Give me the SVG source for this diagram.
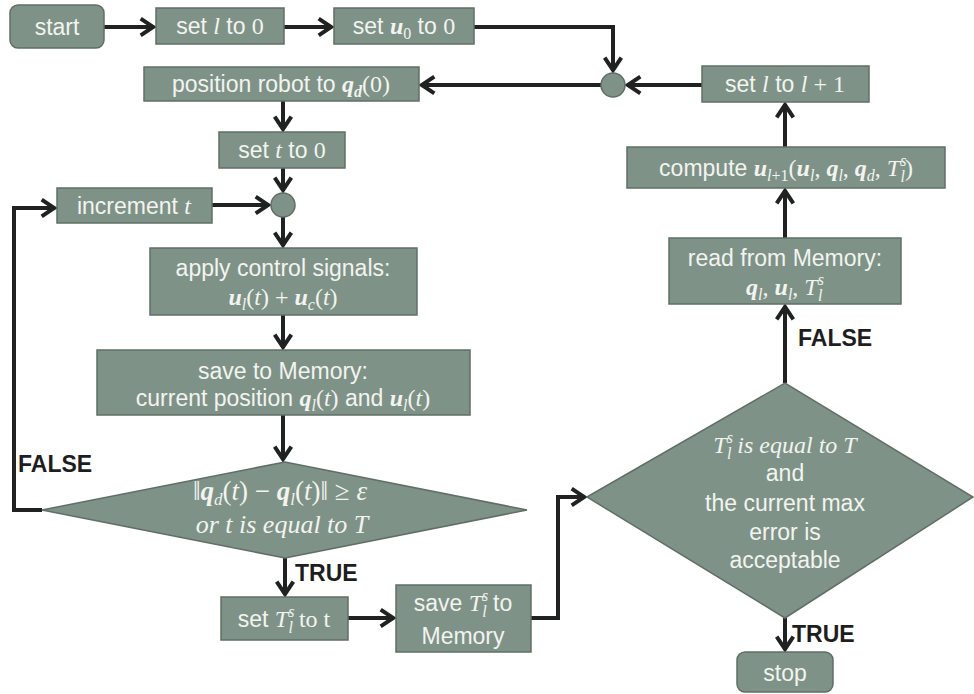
<svg xmlns="http://www.w3.org/2000/svg" width="974" height="694" viewBox="0 0 974 694">
<defs>
<marker id="ah" viewBox="0 0 12 12" refX="10.5" refY="6" markerWidth="20" markerHeight="20" markerUnits="userSpaceOnUse" orient="auto">
<path d="M2.5,1 L10,6 L2.5,11" fill="none" stroke="#1f2221" stroke-width="2.4" stroke-linejoin="miter"/>
</marker>
<style>
.box{fill:#7f9287;stroke:#5f6f66;stroke-width:1.5}
.jn{fill:#7f9287;stroke:#5f6f66;stroke-width:1.5}
.t{font-family:"Liberation Sans",Arial,sans-serif;font-size:23px;fill:#f2f4f0;text-anchor:middle}
.m{font-family:"Liberation Serif","Times New Roman",serif;font-style:italic;font-size:24px}
.mb{font-family:"Liberation Serif","Times New Roman",serif;font-style:italic;font-weight:bold;font-size:24px}
.r{font-family:"Liberation Serif","Times New Roman",serif;font-size:24px}
.t .s{font-size:16px}
.big .m,.big .mb,.big .r{font-size:27px}
.big .s{font-size:17px}
.lbl{font-family:"Liberation Sans",Arial,sans-serif;font-weight:bold;font-size:23px;fill:#1e1e1e}
.c{fill:none;stroke:#1f2221;stroke-width:4;marker-end:url(#ah)}
</style>
</defs>
<rect width="974" height="694" fill="#ffffff"/>

<g id="connectors">
<path class="c" d="M104,27 H154"/>
<path class="c" d="M284,27 H332"/>
<path class="c" d="M474,27 H613 V71"/>
<path class="c" d="M601,85 H421"/>
<path class="c" d="M702,85 H627"/>
<path class="c" d="M785,147 V104"/>
<path class="c" d="M785,238 V190"/>
<path class="c" d="M785,383 V306"/>
<path class="c" d="M283,101 V130"/>
<path class="c" d="M283,168 V191"/>
<path class="c" d="M212,205 H269"/>
<path class="c" d="M283,217 V246"/>
<path class="c" d="M283,315 V348"/>
<path class="c" d="M283,415 V460"/>
<path class="c" d="M42,510 H14 V208 H55"/>
<path class="c" d="M285,558 V595"/>
<path class="c" d="M348,618 H394"/>
<path class="c" d="M531,618 H558 V497 H585"/>
<path class="c" d="M785,618 V650"/>
</g>

<g id="start">
<rect class="box" x="10" y="5" width="94" height="43" rx="8"/>
<text class="t" x="57" y="35">start</text>
</g>

<g id="set-l-0">
<rect class="box" x="156" y="8" width="128" height="36"/>
<text class="t" x="220" y="34">set <tspan class="m">l</tspan> to <tspan class="r">0</tspan></text>
</g>

<g id="set-u0-0">
<rect class="box" x="334" y="8" width="140" height="36"/>
<text class="t" x="404" y="34">set <tspan class="mb">u</tspan><tspan class="r s" dy="5">0</tspan><tspan dy="-5"> to </tspan><tspan class="r">0</tspan></text>
</g>

<g id="junction-1">
<circle class="jn" cx="613" cy="85" r="12"/>
</g>

<g id="position-robot">
<rect class="box" x="144" y="67" width="275" height="34"/>
<text class="t" x="281" y="92">position robot to <tspan class="mb">q</tspan><tspan class="mb s" dy="5">d</tspan><tspan class="r" dy="-5">(0)</tspan></text>
</g>

<g id="set-l-l1">
<rect class="box" x="702" y="66" width="167" height="36"/>
<text class="t" x="785" y="92">set <tspan class="m">l</tspan> to <tspan class="m">l</tspan><tspan class="r"> + 1</tspan></text>
</g>

<g id="compute">
<rect class="box" x="627" y="147" width="318" height="41"/>
<text class="t" x="786" y="176">compute <tspan class="mb">u</tspan><tspan class="m s" dy="5">l</tspan><tspan class="r s">+1</tspan><tspan class="r" dy="-5">(</tspan><tspan class="mb">u</tspan><tspan class="m s" dy="5">l</tspan><tspan class="r" dy="-5">, </tspan><tspan class="mb">q</tspan><tspan class="m s" dy="5">l</tspan><tspan class="r" dy="-5">, </tspan><tspan class="mb">q</tspan><tspan class="m s" dy="5">d</tspan><tspan class="r" dy="-5">, </tspan><tspan class="m">T</tspan><tspan class="m s" dy="-10">s</tspan><tspan class="m s" dx="-6" dy="16">l</tspan><tspan class="r" dy="-6">)</tspan></text>
</g>

<g id="read-memory">
<rect class="box" x="669" y="238" width="232" height="66"/>
<text class="t" x="785" y="266">read from Memory:</text>
<text class="t" x="785" y="295"><tspan class="mb">q</tspan><tspan class="m s" dy="5">l</tspan><tspan class="r" dy="-5">, </tspan><tspan class="mb">u</tspan><tspan class="m s" dy="5">l</tspan><tspan class="r" dy="-5">, </tspan><tspan class="m">T</tspan><tspan class="m s" dy="-10">s</tspan><tspan class="m s" dx="-6" dy="16">l</tspan></text>
</g>

<g id="set-t-0">
<rect class="box" x="219" y="132" width="126" height="36"/>
<text class="t" x="282" y="158">set <tspan class="m">t</tspan> to <tspan class="r">0</tspan></text>
</g>

<g id="junction-2">
<circle class="jn" cx="283" cy="205" r="12"/>
</g>

<g id="increment-t">
<rect class="box" x="57" y="188" width="155" height="35"/>
<text class="t" x="134" y="214">increment <tspan class="m">t</tspan></text>
</g>

<g id="apply-control">
<rect class="box" x="150" y="248" width="267" height="67"/>
<text class="t" x="283" y="276">apply control signals:</text>
<text class="t" x="283" y="305"><tspan class="mb">u</tspan><tspan class="m s" dy="5">l</tspan><tspan class="r" dy="-5">(</tspan><tspan class="m">t</tspan><tspan class="r">) + </tspan><tspan class="mb">u</tspan><tspan class="m s" dy="5">c</tspan><tspan class="r" dy="-5">(</tspan><tspan class="m">t</tspan><tspan class="r">)</tspan></text>
</g>

<g id="save-memory">
<rect class="box" x="97" y="350" width="373" height="65"/>
<text class="t" x="283" y="379">save to Memory:</text>
<text class="t" x="283" y="406">current position <tspan class="mb">q</tspan><tspan class="m s" dy="5">l</tspan><tspan class="r" dy="-5">(</tspan><tspan class="m">t</tspan><tspan class="r">)</tspan> and <tspan class="mb">u</tspan><tspan class="m s" dy="5">l</tspan><tspan class="r" dy="-5">(</tspan><tspan class="m">t</tspan><tspan class="r">)</tspan></text>
</g>

<g id="decision-error">
<polygon class="box" points="42,510 285,462 527,510 285,558"/>
<text class="t big" x="280" y="500"><tspan class="r">‖</tspan><tspan class="mb">q</tspan><tspan class="m s" dy="5">d</tspan><tspan class="r" dy="-5">(</tspan><tspan class="m">t</tspan><tspan class="r">) − </tspan><tspan class="mb">q</tspan><tspan class="m s" dy="5">l</tspan><tspan class="r" dy="-5">(</tspan><tspan class="m">t</tspan><tspan class="r">)‖ ≥ </tspan><tspan class="m">ε</tspan></text>
<text class="t m" x="282" y="533" style="font-size:26px">or t is equal to T</text>
</g>

<g id="set-Ts">
<rect class="box" x="221" y="597" width="127" height="43"/>
<text class="t" x="284" y="627">set <tspan class="m">T</tspan><tspan class="m s" dy="-10">s</tspan><tspan class="m s" dx="-6" dy="16">l</tspan><tspan class="r" dy="-6"> to t</tspan></text>
</g>

<g id="save-Ts">
<rect class="box" x="396" y="585" width="135" height="67"/>
<text class="t" x="463" y="611">save <tspan class="m">T</tspan><tspan class="m s" dy="-10">s</tspan><tspan class="m s" dx="-6" dy="16">l</tspan><tspan dy="-6"> to</tspan></text>
<text class="t" x="463" y="644">Memory</text>
</g>

<g id="decision-final">
<polygon class="box" points="587,497 785,383 973,497 785,618"/>
<text class="t" x="785" y="453"><tspan class="m">T</tspan><tspan class="m s" dy="-10">s</tspan><tspan class="m s" dx="-6" dy="16">l</tspan><tspan class="m" dy="-6"> is equal to T</tspan></text>
<text class="t" x="785" y="481">and</text>
<text class="t" x="785" y="511">the current max</text>
<text class="t" x="785" y="540">error is</text>
<text class="t" x="785" y="568">acceptable</text>
</g>

<g id="stop">
<rect class="box" x="737" y="652" width="96" height="40" rx="8"/>
<text class="t" x="785" y="681">stop</text>
</g>

<g id="labels">
<text class="lbl" x="18" y="472">FALSE</text>
<text class="lbl" x="295" y="581">TRUE</text>
<text class="lbl" x="798" y="346">FALSE</text>
<text class="lbl" x="792" y="642">TRUE</text>
</g>
</svg>
